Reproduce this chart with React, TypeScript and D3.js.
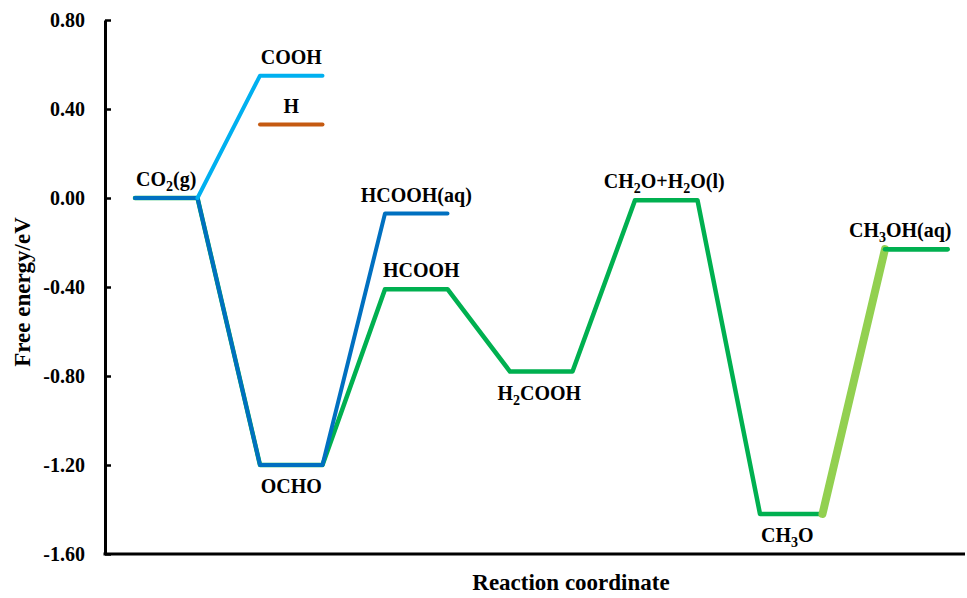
import { useRef, useEffect } from 'react';
import * as d3 from 'd3';

// free energies (eV) for each step of the pathway
const steps = [0, 1, 2, 3, 4, 5, 6];
const greenPath = [0.0, -1.2, -0.41, -0.78, -0.01, -1.42, -0.23];
const bluePath = [0.0, -1.2, -0.07];
const COOH_LEVEL = 0.55;
const H_LEVEL = 0.33;
const yTicks = [0.8, 0.4, 0.0, -0.4, -0.8, -1.2, -1.6];

type Label = { parts: [string, boolean][]; step: number; value: number; below?: boolean; dx?: number };
const labels: Label[] = [
  { parts: [['CO', false], ['2', true], ['(g)', false]], step: 0, value: 0.0 },
  { parts: [['COOH', false]], step: 1, value: COOH_LEVEL },
  { parts: [['H', false]], step: 1, value: H_LEVEL },
  { parts: [['OCHO', false]], step: 1, value: -1.2, below: true },
  { parts: [['HCOOH(aq)', false]], step: 2, value: -0.07 },
  { parts: [['HCOOH', false]], step: 2, value: -0.41, dx: 5 },
  { parts: [['H', false], ['2', true], ['COOH', false]], step: 3, value: -0.78, below: true, dx: -2 },
  { parts: [['CH', false], ['2', true], ['O+H', false], ['2', true], ['O(l)', false]], step: 4, value: -0.01, dx: -2 },
  { parts: [['CH', false], ['3', true], ['O', false]], step: 5, value: -1.42, below: true, dx: -4 },
  { parts: [['CH', false], ['3', true], ['OH(aq)', false]], step: 6, value: -0.23, dx: -16 },
];

const W = 967, H = 598;
const FONT = 'Liberation Serif, DejaVu Serif, serif';

export default function App() {
  const svgRef = useRef<SVGSVGElement>(null);

  useEffect(() => {
    const svg = d3.select(svgRef.current);
    svg.selectAll('*').remove();

    const left = 105, right = 965, top = 20, bottom = 554;
    const x = d3.scaleLinear().domain([-0.24, 6.64]).range([left, right]);
    const y = d3.scaleLinear().domain([-1.6, 0.8]).range([bottom, top]);

    const levelPts = (vals: number[], idx: number[]) =>
      vals.flatMap((v, i) => [[idx[i], v], [idx[i] + 0.5, v]] as [number, number][]);

    const line = d3.line<[number, number]>().x(d => x(d[0])).y(d => y(d[1]));

    const draw = (pts: [number, number][], color: string, width: number) =>
      svg.append('path')
        .datum(pts)
        .attr('d', line)
        .attr('fill', 'none')
        .attr('stroke', color)
        .attr('stroke-width', width)
        .attr('stroke-linejoin', 'round')
        .attr('stroke-linecap', 'round');

    // main pathway (green), aqueous HCOOH branch (blue)
    draw(levelPts(greenPath, steps), '#00B050', 4.5);
    draw(levelPts(bluePath, steps.slice(0, 3)), '#0070C0', 4);
    // COOH branch and H level
    draw([[0.5, 0], [1, COOH_LEVEL], [1.5, COOH_LEVEL]], '#00B0F0', 4);
    draw([[1, H_LEVEL], [1.5, H_LEVEL]], '#C55A11', 4);
    // CH3O -> CH3OH(aq) highlight
    draw([[5.5, greenPath[5]], [6, greenPath[6]]], '#92D050', 8);
    draw([[6, greenPath[6]], [6.5, greenPath[6]]], '#00B050', 4.5);

    // Y axis
    const yAxis = svg.append('g')
      .attr('transform', `translate(${left},0)`)
      .call(d3.axisLeft(y).tickValues(yTicks).tickSizeInner(-6).tickSizeOuter(0).tickPadding(20)
        .tickFormat((d: any) => (+d).toFixed(2)));
    yAxis.select('.domain').attr('stroke', '#000').attr('stroke-width', 3);
    yAxis.selectAll('.tick line').attr('stroke', '#000').attr('stroke-width', 2.5);
    yAxis.selectAll('text')
      .attr('fill', '#000')
      .attr('font-family', FONT)
      .attr('font-weight', 'bold')
      .attr('font-size', 20);

    // X axis (no ticks)
    svg.append('line')
      .attr('x1', left - 1.5).attr('x2', right)
      .attr('y1', bottom).attr('y2', bottom)
      .attr('stroke', '#000').attr('stroke-width', 3);

    // axis titles
    svg.append('text')
      .attr('x', 571).attr('y', 590)
      .attr('text-anchor', 'middle')
      .attr('font-family', FONT).attr('font-weight', 'bold').attr('font-size', 23)
      .text('Reaction coordinate');
    svg.append('text')
      .attr('transform', `translate(30,292) rotate(-90)`)
      .attr('text-anchor', 'middle')
      .attr('font-family', FONT).attr('font-weight', 'bold').attr('font-size', 23)
      .text('Free energy/eV');

    // level labels
    labels.forEach(l => {
      const t = svg.append('text')
        .attr('x', x(l.step + 0.25) + (l.dx ?? 0))
        .attr('y', y(l.value) + (l.below ? 28 : -12))
        .attr('text-anchor', 'middle')
        .attr('font-family', FONT).attr('font-weight', 'bold').attr('font-size', 20);
      let shifted = false;
      l.parts.forEach(([s, sub]) => {
        const ts = t.append('tspan').text(s);
        if (sub) { ts.attr('dy', 5).attr('font-size', 14); shifted = true; }
        else if (shifted) { ts.attr('dy', -5); shifted = false; }
      });
    });
  }, []);

  return (
    <svg ref={svgRef} width={W} height={H}
      style={{ position: 'absolute', left: 0, top: 0, background: '#fff' }} />
  );
}
